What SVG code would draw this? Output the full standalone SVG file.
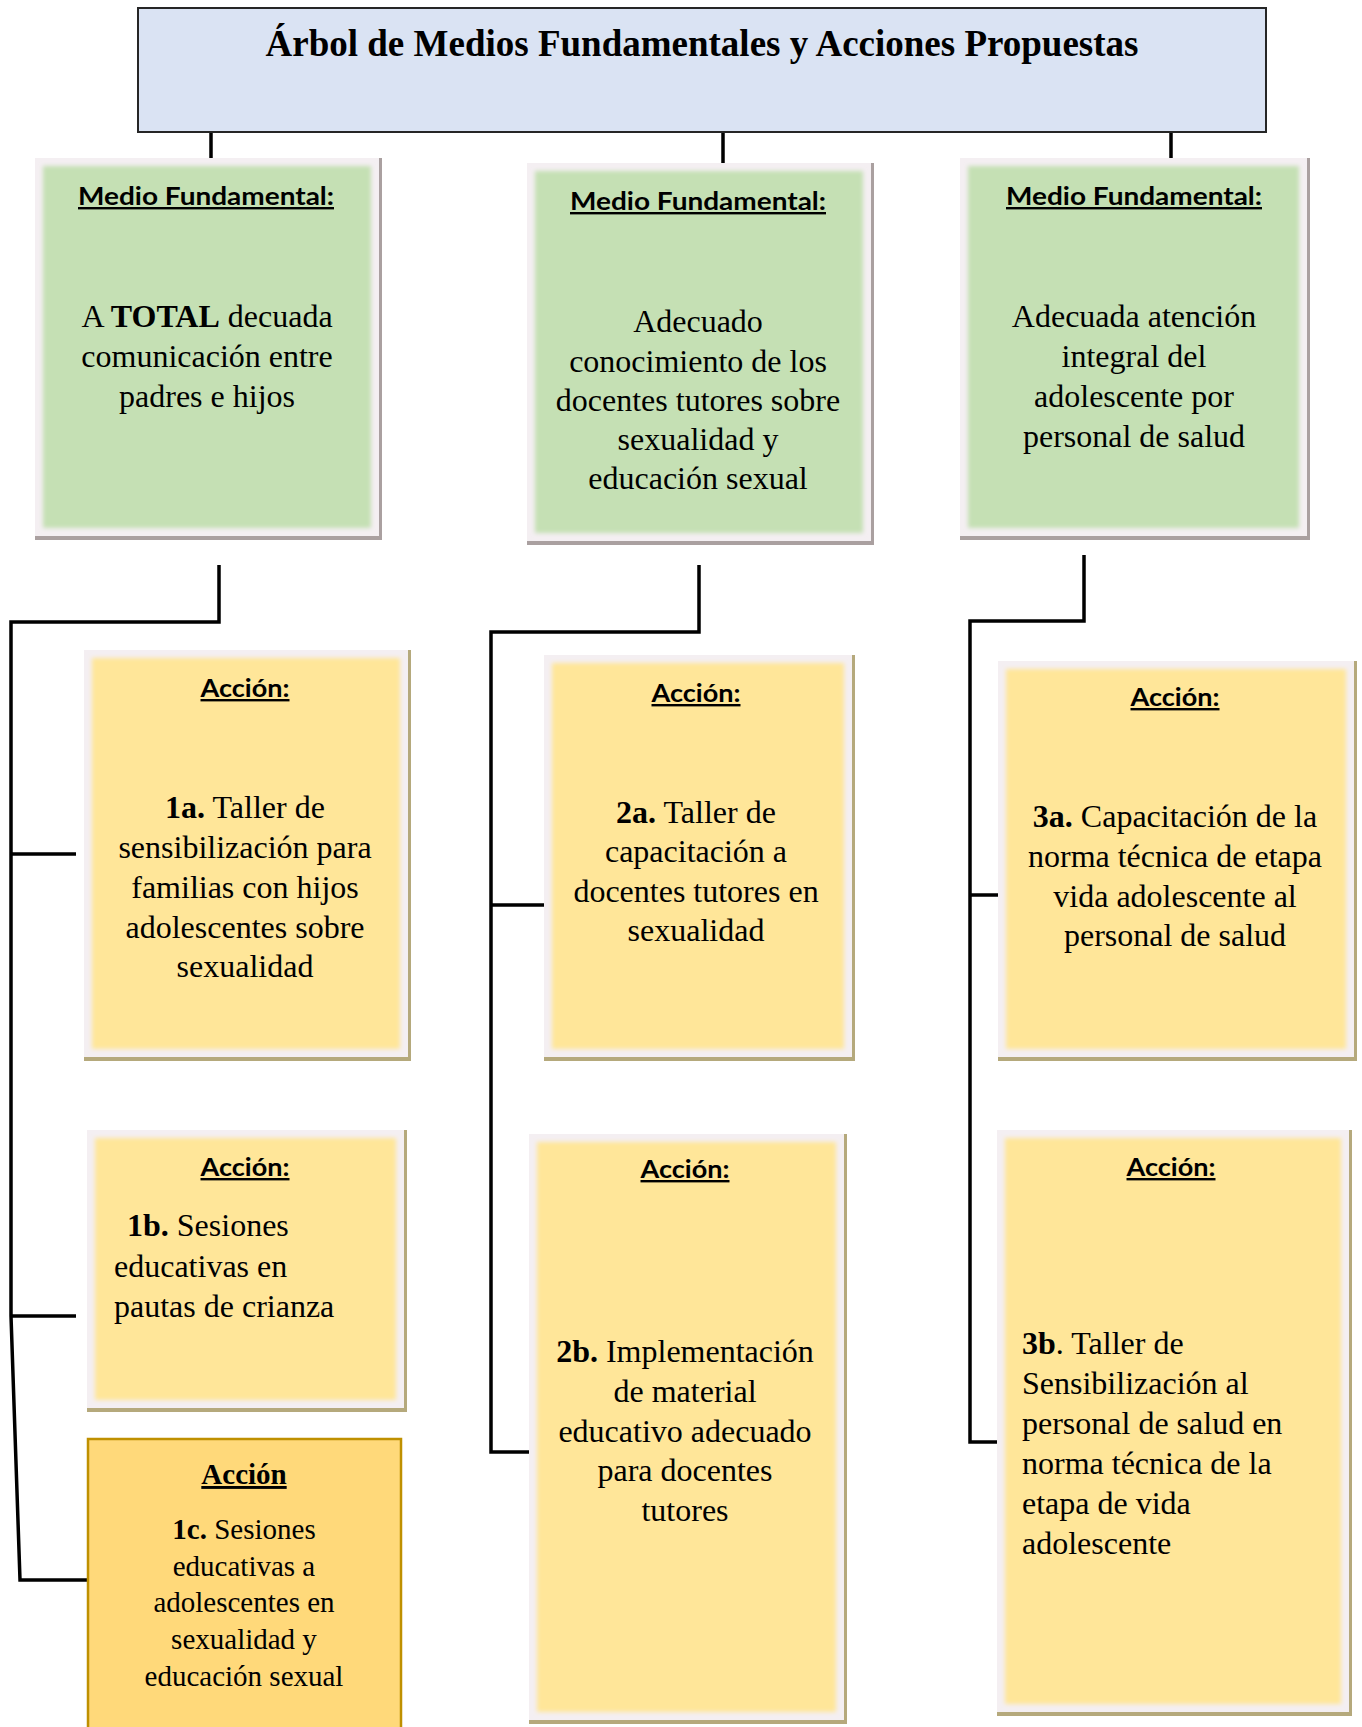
<svg xmlns="http://www.w3.org/2000/svg" width="1362" height="1727" viewBox="0 0 1362 1727">
<defs>
<filter id="soft" x="-5%" y="-5%" width="110%" height="110%"><feGaussianBlur stdDeviation="2"/></filter>
</defs>
<style>
.title{font-family:"Liberation Serif",serif;font-weight:bold;font-size:37px;fill:#000}
.lbl{font-family:Lato,"Liberation Sans",sans-serif;font-weight:bold;font-size:24px;fill:#000;text-decoration:underline}
.body{font-family:"Liberation Serif",serif;font-size:32px;fill:#000}
.body29{font-family:"Liberation Serif",serif;font-size:29px;fill:#000}
.b{font-weight:bold}
.conn{fill:none;stroke:#000;stroke-width:3.5;stroke-linejoin:miter}
.gshadow{fill:#aaa0a0}
.yshadow{fill:#b5a97c}
.frame{fill:#f4eff2}
.green{fill:#c5e0b4}
.yellow{fill:#ffe699}
</style>
<rect width="1362" height="1727" fill="#fff"/>

<g id="connectors">
<path class="conn" d="M211 132 V158 M723 132 V163 M1171 132 V158"/>
<path class="conn" d="M219 565 V622 H11 V1316 L20 1580 H87 M11 854 H76 M11 1316 H76"/>
<path class="conn" d="M699 565 V632 H491 V1452 H529 M491 905 H544"/>
<path class="conn" d="M1084 555 V621 H970 V1442 H1006 M970 895 H1006"/>
</g>

<g id="title">
<rect x="138" y="8" width="1128" height="124" fill="#dae3f3" stroke="#262626" stroke-width="2"/>
<text class="title" x="702" y="56" text-anchor="middle">Árbol de Medios Fundamentales y Acciones Propuestas</text>
</g>

<g id="medio1">
<rect class="gshadow" x="35" y="158" width="347" height="382"/>
<rect class="frame" x="35" y="158" width="344" height="378"/>
<rect class="green" x="43" y="166" width="328" height="362" filter="url(#soft)"/>
<text class="lbl" x="206" y="205" text-anchor="middle" textLength="256" lengthAdjust="spacingAndGlyphs">Medio Fundamental:</text>
<text class="body" text-anchor="middle"><tspan x="207" y="327">A <tspan class="b">TOTAL</tspan> decuada</tspan><tspan x="207" y="367">comunicación entre</tspan><tspan x="207" y="407">padres e hijos</tspan></text>
</g>

<g id="medio2">
<rect class="gshadow" x="527" y="163" width="347" height="382"/>
<rect class="frame" x="527" y="163" width="344" height="378"/>
<rect class="green" x="535" y="171" width="328" height="362" filter="url(#soft)"/>
<text class="lbl" x="698" y="210" text-anchor="middle" textLength="256" lengthAdjust="spacingAndGlyphs">Medio Fundamental:</text>
<text class="body" text-anchor="middle"><tspan x="698" y="332">Adecuado</tspan><tspan x="698" y="372">conocimiento de los</tspan><tspan x="698" y="411">docentes tutores sobre</tspan><tspan x="698" y="450">sexualidad y</tspan><tspan x="698" y="489">educación sexual</tspan></text>
</g>

<g id="medio3">
<rect class="gshadow" x="960" y="158" width="350" height="382"/>
<rect class="frame" x="960" y="158" width="347" height="378"/>
<rect class="green" x="968" y="166" width="331" height="362" filter="url(#soft)"/>
<text class="lbl" x="1134" y="205" text-anchor="middle" textLength="256" lengthAdjust="spacingAndGlyphs">Medio Fundamental:</text>
<text class="body" text-anchor="middle"><tspan x="1134" y="327">Adecuada atención</tspan><tspan x="1134" y="367">integral del</tspan><tspan x="1134" y="407">adolescente por</tspan><tspan x="1134" y="447">personal de salud</tspan></text>
</g>

<g id="accion1a">
<rect class="yshadow" x="84" y="650" width="327" height="411"/>
<rect class="frame" x="84" y="650" width="324" height="407"/>
<rect class="yellow" x="92" y="658" width="308" height="391" filter="url(#soft)"/>
<text class="lbl" x="245" y="697" text-anchor="middle" textLength="89" lengthAdjust="spacingAndGlyphs">Acción:</text>
<text class="body" text-anchor="middle"><tspan x="245" y="818"><tspan class="b">1a.</tspan> Taller de</tspan><tspan x="245" y="858">sensibilización para</tspan><tspan x="245" y="898">familias con hijos</tspan><tspan x="245" y="938">adolescentes sobre</tspan><tspan x="245" y="977">sexualidad</tspan></text>
</g>

<g id="accion2a">
<rect class="yshadow" x="544" y="655" width="311" height="406"/>
<rect class="frame" x="544" y="655" width="308" height="402"/>
<rect class="yellow" x="552" y="663" width="292" height="386" filter="url(#soft)"/>
<text class="lbl" x="696" y="702" text-anchor="middle" textLength="89" lengthAdjust="spacingAndGlyphs">Acción:</text>
<text class="body" text-anchor="middle"><tspan x="696" y="823"><tspan class="b">2a.</tspan> Taller de</tspan><tspan x="696" y="862">capacitación a</tspan><tspan x="696" y="902">docentes tutores en</tspan><tspan x="696" y="941">sexualidad</tspan></text>
</g>

<g id="accion3a">
<rect class="yshadow" x="998" y="661" width="359" height="400"/>
<rect class="frame" x="998" y="661" width="356" height="396"/>
<rect class="yellow" x="1006" y="669" width="340" height="380" filter="url(#soft)"/>
<text class="lbl" x="1175" y="706" text-anchor="middle" textLength="89" lengthAdjust="spacingAndGlyphs">Acción:</text>
<text class="body" text-anchor="middle"><tspan x="1175" y="827"><tspan class="b">3a.</tspan> Capacitación de la</tspan><tspan x="1175" y="867">norma técnica de etapa</tspan><tspan x="1175" y="907">vida adolescente al</tspan><tspan x="1175" y="946">personal de salud</tspan></text>
</g>

<g id="accion1b">
<rect class="yshadow" x="87" y="1130" width="320" height="282"/>
<rect class="frame" x="87" y="1130" width="317" height="278"/>
<rect class="yellow" x="95" y="1138" width="301" height="262" filter="url(#soft)"/>
<text class="lbl" x="245" y="1176" text-anchor="middle" textLength="89" lengthAdjust="spacingAndGlyphs">Acción:</text>
<text class="body"><tspan x="127" y="1236"><tspan class="b">1b.</tspan> Sesiones</tspan><tspan x="114" y="1277">educativas en</tspan><tspan x="114" y="1317">pautas de crianza</tspan></text>
</g>

<g id="accion1c">
<rect x="88" y="1439" width="313" height="300" fill="#ffd97a" stroke="#bf9000" stroke-width="2.5"/>
<text class="body29 b" x="244" y="1484" text-anchor="middle" text-decoration="underline">Acción</text>
<text class="body29" text-anchor="middle"><tspan x="244" y="1539"><tspan class="b">1c.</tspan> Sesiones</tspan><tspan x="244" y="1576">educativas a</tspan><tspan x="244" y="1612">adolescentes en</tspan><tspan x="244" y="1649">sexualidad y</tspan><tspan x="244" y="1686">educación sexual</tspan></text>
</g>

<g id="accion2b">
<rect class="yshadow" x="529" y="1134" width="318" height="590"/>
<rect class="frame" x="529" y="1134" width="315" height="586"/>
<rect class="yellow" x="537" y="1142" width="299" height="570" filter="url(#soft)"/>
<text class="lbl" x="685" y="1178" text-anchor="middle" textLength="89" lengthAdjust="spacingAndGlyphs">Acción:</text>
<text class="body" text-anchor="middle"><tspan x="685" y="1362"><tspan class="b">2b.</tspan> Implementación</tspan><tspan x="685" y="1402">de material</tspan><tspan x="685" y="1442">educativo adecuado</tspan><tspan x="685" y="1481">para docentes</tspan><tspan x="685" y="1521">tutores</tspan></text>
</g>

<g id="accion3b">
<rect class="yshadow" x="997" y="1130" width="355" height="586"/>
<rect class="frame" x="997" y="1130" width="352" height="582"/>
<rect class="yellow" x="1005" y="1138" width="336" height="566" filter="url(#soft)"/>
<text class="lbl" x="1171" y="1176" text-anchor="middle" textLength="89" lengthAdjust="spacingAndGlyphs">Acción:</text>
<text class="body"><tspan x="1022" y="1354"><tspan class="b">3b</tspan>. Taller de</tspan><tspan x="1022" y="1394">Sensibilización al</tspan><tspan x="1022" y="1434">personal de salud en</tspan><tspan x="1022" y="1474">norma técnica de la</tspan><tspan x="1022" y="1514">etapa de vida</tspan><tspan x="1022" y="1554">adolescente</tspan></text>
</g>
</svg>
